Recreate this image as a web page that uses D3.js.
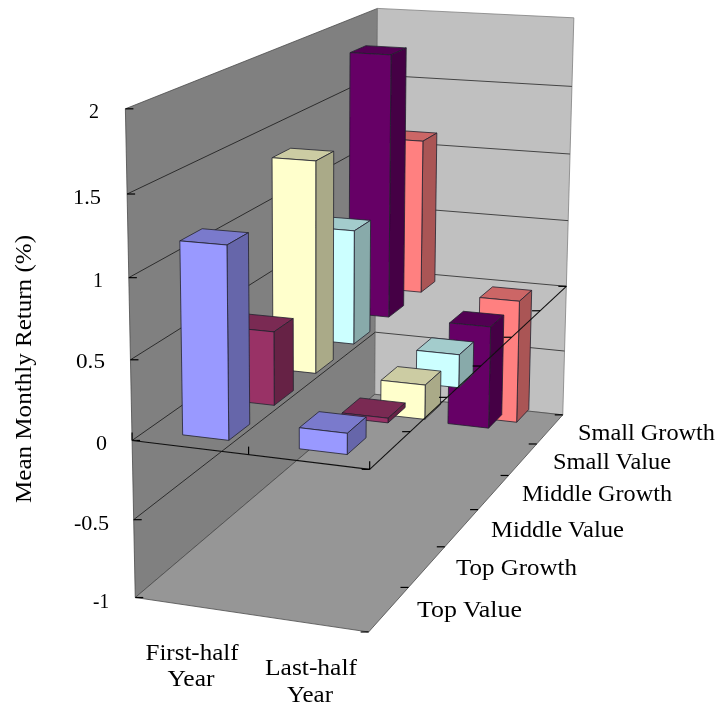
<!DOCTYPE html>
<html>
<head>
<meta charset="utf-8">
<style>
html,body{margin:0;padding:0;background:#fff;overflow:hidden}
svg{display:block}
text{font-family:"Liberation Serif","Times New Roman",serif;fill:#000}
</style>
<script src="https://cdn.jsdelivr.net/npm/d3@7/dist/d3.min.js"></script>
</head>
<body>
<svg id="chart" width="721" height="711"></svg>
<script>
// ---- data ----
const categories = ["First-half Year", "Last-half Year"];
const series = ["Top Value", "Top Growth", "Middle Value", "Middle Growth", "Small Value", "Small Growth"];
const firstHalf = [1.195, 0.475, 1.41, 0.79, 1.87, 1.13];
const lastHalf = [0.13, -0.03, -0.23, -0.23, -0.74, -0.92];
const yTicks = [-1, -0.5, 0, 0.5, 1, 1.5, 2];
const yTickLabels = ["-1", "-0.5", "0", "0.5", "1", "1.5", "2"];
const frontColors = ["#9999ff", "#993366", "#ffffcc", "#ccffff", "#660066", "#ff8080"];

// ---- layout: camera calibration, [x, z, value, pxX, pxY] ----
const frameAnchors = [
  [0,0,-1,136,598],[0,0,0,133,442],[0,0,2,125,108],
  [1,0,-1,367,632],[1,0,0,370,468],
  [0,1,-1,374,394],[0,1,0,376,268],[0,1,2,377,9],
  [1,1,-1,563,415],[1,1,0,567,287],[1,1,2,574,18]
];
const yTickPos = {"-1":[109,608],"-0.5":[109,530],"0":[107,450],"0.5":[105,368],"1":[103,287],"1.5":[101,204],"2":[99,118]};
const yTickW = {"-1":16,"-0.5":35,"0":11,"0.5":29,"1":10,"1.5":28,"2":10};
const seriesPos = [[417,617,105],[456,575,121],[491,537,133],[522,501,150],[553,469,118],[578,440,137]];
const catLines = [
  [["First-half",192,660,93],["Year",191,686,47]],
  [["Last-half",311,675,92],["Year",310,702,46]]
];

// ---- scales ----
const xBand = d3.scaleBand().domain(categories).range([0.01,1.01]).paddingInner(0.6).paddingOuter(0.3);
const zBand = d3.scaleBand().domain(series).range([0,1]).paddingInner(0.55).paddingOuter(0.275);
const yScale = d3.scaleLinear().domain([-1,2]).range([0,1]);

// ---- least-squares perspective fit ----
function fitCamera(pts){
  const A=[],b=[];
  pts.forEach(([x,z,v,u,w])=>{
    const y=yScale(v), U=u/700, W=w/700;
    A.push([x,y,z,1,0,0,0,0,-U*x,-U*y,-U*z]); b.push(U);
    A.push([0,0,0,0,x,y,z,1,-W*x,-W*y,-W*z]); b.push(W);
  });
  const n=11, M=d3.range(n).map(i=>d3.range(n+1).map(j=>
    j<n ? d3.sum(A,r=>r[i]*r[j]) : d3.sum(A,(r,k)=>r[i]*b[k])));
  for(let c=0;c<n;c++){
    let p=c; for(let r=c+1;r<n;r++) if(Math.abs(M[r][c])>Math.abs(M[p][c])) p=r;
    [M[c],M[p]]=[M[p],M[c]];
    for(let r=0;r<n;r++){ if(r===c) continue;
      const f=M[r][c]/M[c][c];
      for(let k=c;k<=n;k++) M[r][k]-=f*M[c][k];
    }
  }
  return d3.range(n).map(i=>M[i][n]/M[i][i]);
}
const P = fitCamera(frameAnchors);
function proj(x,z,v){
  const y=yScale(v), d=P[8]*x+P[9]*y+P[10]*z+1;
  return [700*(P[0]*x+P[1]*y+P[2]*z+P[3])/d, 700*(P[4]*x+P[5]*y+P[6]*z+P[7])/d];
}

const svg = d3.select("#chart");
const defs = svg.append("defs");
defs.append("filter").attr("id","soft").attr("x","-5%").attr("y","-5%").attr("width","110%").attr("height","110%")
  .append("feGaussianBlur").attr("stdDeviation",0.55);
const root = svg.append("g").attr("filter","url(#soft)");
const path = pts => "M"+pts.map(p=>p.map(d=>d.toFixed(2)).join(",")).join("L")+"Z";
const seg = (g,a,b,stroke,w) => g.append("line").attr("x1",a[0]).attr("y1",a[1]).attr("x2",b[0]).attr("y2",b[1])
  .attr("stroke",stroke).attr("stroke-width",w);

// ---- walls and floor ----
const walls = root.append("g");
const wallEdge = "#4a4a4a";
walls.append("path").attr("d",path([proj(0,0,-1),proj(0,0,2),proj(0,1,2),proj(0,1,-1)]))
  .attr("fill","#808080").attr("stroke",wallEdge).attr("stroke-width",0.8);
walls.append("path").attr("d",path([proj(0,1,-1),proj(0,1,2),proj(1,1,2),proj(1,1,-1)]))
  .attr("fill","#c0c0c0").attr("stroke","#808080").attr("stroke-width",0.8);
walls.append("path").attr("d",path([proj(0,0,-1),proj(1,0,-1),proj(1,1,-1),proj(0,1,-1)]))
  .attr("fill","#969696").attr("stroke",wallEdge).attr("stroke-width",0.8);
const grid = root.append("g");
yTicks.forEach(v=>{
  if(v>-1 && v<2){
    seg(grid,proj(0,0,v),proj(0,1,v),"#2c2c2c",1);
    seg(grid,proj(0,1,v),proj(1,1,v),"#444",1);
  }
  const p=proj(0,0,v);
  seg(grid,p,[p[0]+8,p[1]],"#000",1.2);
});

// ---- bars, back to front ----
const shade = (c,k) => { const r=d3.rgb(c); return d3.rgb(r.r*k,r.g*k,r.b*k).formatHex(); };
const bars = root.append("g");
const rows = series.map((s,i)=>({s,i})).reverse();
rows.forEach(({s,i})=>{
  [firstHalf[i], lastHalf[i]].forEach((val,ci)=>{
    const x0=xBand(categories[ci]), x1=x0+xBand.bandwidth();
    const z0=zBand(s), z1=z0+zBand.bandwidth();
    const lo=Math.min(val,0), hi=Math.max(val,0);
    const c=frontColors[i];
    const g=bars.append("g").attr("stroke","#22222e").attr("stroke-width",0.8).attr("stroke-linejoin","round");
    g.append("path").attr("d",path([proj(x0,z0,hi),proj(x0,z1,hi),proj(x1,z1,hi),proj(x1,z0,hi)])).attr("fill",shade(c,0.8));
    g.append("path").attr("d",path([proj(x1,z0,lo),proj(x1,z0,hi),proj(x1,z1,hi),proj(x1,z1,lo)])).attr("fill",shade(c,0.665));
    g.append("path").attr("d",path([proj(x0,z0,lo),proj(x0,z0,hi),proj(x1,z0,hi),proj(x1,z0,lo)])).attr("fill",c);
  });
});

// ---- zero plane edges and axis ticks, over the bars ----
const axes = root.append("g");
seg(axes,proj(0,0,0),proj(1,0,0),"#111",1.1);
seg(axes,proj(1,0,0),proj(1,1,0),"#111",1.1);
[0,0.5,1].forEach(t=>{ const p=proj(t,0,0); seg(axes,p,[p[0],p[1]-8],"#000",1.2); });
d3.range(0,7).forEach(k=>{
  const t=k/6, a=proj(1,t,0), b=proj(1,t,-1);
  seg(axes,a,[a[0]-8,a[1]],"#000",1.2);
  seg(axes,b,[b[0]-8,b[1]],"#000",1.2);
});

// ---- text ----
const labels = root.append("g");
function label(txt,x,y,w,size,anchor){
  return labels.append("text").attr("x",x).attr("y",y).attr("font-size",size)
    .attr("text-anchor",anchor).attr("textLength",w).attr("lengthAdjust","spacingAndGlyphs").text(txt);
}
yTicks.forEach((v,i)=>{
  const t=yTickLabels[i], p=yTickPos[t];
  label(t,p[0],p[1],yTickW[t],22,"end");
});
series.forEach((s,i)=>{ const p=seriesPos[i]; label(s,p[0],p[1],p[2],24,"start"); });
catLines.flat().forEach(([t,x,y,w])=>label(t,x,y,w,24,"middle"));
labels.append("text").attr("transform","translate(31,369) rotate(-90)").attr("font-size",24)
  .attr("text-anchor","middle").attr("textLength",268).attr("lengthAdjust","spacingAndGlyphs")
  .text("Mean Monthly Return (%)");
</script>
</body>
</html>
